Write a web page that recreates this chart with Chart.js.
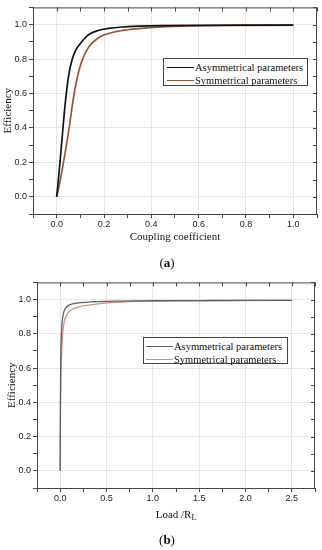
<!DOCTYPE html>
<html><head><meta charset="utf-8">
<script src="https://cdn.jsdelivr.net/npm/chart.js@4.4.1/dist/chart.umd.min.js"></script>
<style>
html,body{margin:0;padding:0;background:#fff;}
#wrap{position:relative;width:322px;height:550px;overflow:hidden;background:#fff;}
canvas{position:absolute;left:0;}
.legend{position:absolute;border:1px solid #444;background:#fff;box-sizing:border-box;font:10.5px "Liberation Serif",serif;color:#111;}
.row{position:absolute;left:0;right:0;height:13px;}
.sw{position:absolute;height:0;top:6px;}
.txt{position:absolute;top:0;line-height:13px;white-space:nowrap;}
.cap{position:absolute;font:11px "Liberation Serif",serif;color:#111;transform:translate(-50%,-50%);white-space:nowrap;}
.big{font-size:13px;}
sub{font-size:8px;vertical-align:-2px;line-height:0;}
</style></head>
<body>
<div id="wrap">
  <canvas id="ca" width="322" height="275" style="top:0"></canvas>
  <canvas id="cb" width="322" height="275" style="top:275px"></canvas>
  <div id="legA" class="legend" style="left:163px;top:58px;width:145px;height:28px;"></div>
  <div id="legB" class="legend" style="left:143px;top:337px;width:145px;height:27px;"></div>
  <div class="cap" style="left:176px;top:514px;">Load /R<sub>L</sub></div>
  <div class="cap big" style="left:167px;top:263px;">(<b>a</b>)</div>
  <div class="cap big" style="left:167px;top:540px;">(<b>b</b>)</div>
</div>
<script>
// ---------- data ----------
const seriesNames = ['Asymmetrical parameters', 'Symmetrical parameters'];

// (a) efficiency vs coupling coefficient
const couplingAsym   = [0, 0.006, 0.014, 0.021, 0.028, 0.036, 0.05, 0.066, 0.08, 0.097, 0.115, 0.133, 0.175, 0.22, 0.274, 0.35, 0.45, 0.6, 0.8, 1.0];
const efficiencyAsymA = [0, 0.08, 0.2, 0.31, 0.42, 0.54, 0.70, 0.80, 0.85, 0.885, 0.915, 0.94, 0.966, 0.978, 0.986, 0.991, 0.994, 0.996, 0.997, 0.997];
const couplingSym    = [0, 0.01, 0.025, 0.04, 0.055, 0.068, 0.085, 0.104, 0.133, 0.175, 0.232, 0.3, 0.345, 0.444, 0.55, 0.7, 0.85, 1.0];
const efficiencySymA = [0, 0.06, 0.17, 0.29, 0.42, 0.55, 0.68, 0.78, 0.865, 0.922, 0.953, 0.97, 0.977, 0.987, 0.992, 0.995, 0.996, 0.997];

// (b) efficiency vs load / R_L
const loadAsym        = [0, 0.002, 0.005, 0.01, 0.018, 0.036, 0.06, 0.09, 0.15, 0.22, 0.35, 0.58, 1.0, 1.5, 2.0, 2.5];
const efficiencyAsymB = [0, 0.35, 0.60, 0.75, 0.85, 0.92, 0.95, 0.966, 0.976, 0.982, 0.987, 0.991, 0.993, 0.994, 0.995, 0.995];
const loadSym         = [0, 0.003, 0.007, 0.013, 0.022, 0.036, 0.073, 0.145, 0.22, 0.326, 0.45, 0.58, 0.75, 0.94, 1.3, 1.8, 2.5];
const efficiencySymB  = [0, 0.30, 0.50, 0.65, 0.76, 0.845, 0.913, 0.946, 0.96, 0.969, 0.977, 0.983, 0.988, 0.991, 0.993, 0.994, 0.995];

// axis ranges / ticks
const rangeA = {xmin: -0.1, xmax: 1.1, xstep: 0.1, xmajor: 2};
const rangeB = {xmin: -0.25, xmax: 2.75, xstep: 0.25, xmajor: 2};
const rangeY = {min: -0.1, max: 1.1, step: 0.1, major: 2};
const titles = {xA: 'Coupling coefficient', y: 'Efficiency'};

// ---------- helpers ----------
function pts(xs, ys){ return xs.map((x,i)=>({x:x, y:ys[i]})); }
function isMajor(v, step, every){ return Math.round(v/step) % every === 0; }

const mirrorTicks = {
  id: 'mirrorTicks',
  afterDraw(chart){
    const {ctx, chartArea:a, scales:{x, y}} = chart;
    ctx.save();
    ctx.strokeStyle = '#444';
    ctx.lineWidth = 1;
    ctx.beginPath();
    x.ticks.forEach(t => {
      const px = Math.round(x.getPixelForValue(t.value)) + 0.5;
      ctx.moveTo(px, a.top); ctx.lineTo(px, a.top + 4);
    });
    y.ticks.forEach(t => {
      const py = Math.round(y.getPixelForValue(t.value)) + 0.5;
      ctx.moveTo(a.right, py); ctx.lineTo(a.right - 4, py);
    });
    ctx.moveTo(a.left, a.top + 0.5); ctx.lineTo(a.right, a.top + 0.5);
    ctx.moveTo(a.right - 0.5, a.top); ctx.lineTo(a.right - 0.5, a.bottom);
    ctx.stroke();
    ctx.restore();
  }
};

function makeChart(id, o){
  return new Chart(document.getElementById(id), {
    type: 'line',
    data: { datasets: o.sets.map(s => ({
      label: s.label, data: s.data, borderColor: s.color, borderWidth: s.width,
      pointRadius: 0, fill: false, cubicInterpolationMode: 'monotone'
    }))},
    options: {
      responsive: false, animation: false, events: [],
      layout: { padding: o.pad },
      plugins: { legend: {display:false}, tooltip: {enabled:false} },
      scales: {
        x: {
          type: 'linear', min: o.x.xmin, max: o.x.xmax,
          afterFit: s => { s.height = 30; },
          afterBuildTicks: s => {
            const t = []; const n = Math.round((o.x.xmax - o.x.xmin)/o.x.xstep);
            for (let i=0;i<=n;i++) t.push({value: +(o.x.xmin + i*o.x.xstep).toFixed(4)});
            s.ticks = t;
          },
          ticks: {
            autoSkip: false, maxRotation: 0, padding: 1, color: '#222',
            font: {family: '"Liberation Sans", Arial, sans-serif', size: 9},
            callback: v => isMajor(v, o.x.xstep, o.x.xmajor) ? (Math.round(v*10)/10).toFixed(1) : ''
          },
          grid: {
            color: c => (c.tick && isMajor(c.tick.value, o.x.xstep, o.x.xmajor)) ? '#e6e6e6' : 'rgba(0,0,0,0)',
            tickColor: '#444', tickLength: 4, lineWidth: 1
          },
          border: {display: true, color: '#444', width: 1},
          title: {
            display: !!o.xTitle, text: o.xTitle || '', color: '#111',
            font: {family: '"Liberation Serif", serif', size: 11}, padding: {top:0, bottom:0}
          }
        },
        y: {
          type: 'linear', min: rangeY.min, max: rangeY.max,
          afterFit: s => { s.width = o.yWidth; },
          afterBuildTicks: s => {
            const t = []; const n = Math.round((rangeY.max - rangeY.min)/rangeY.step);
            for (let i=0;i<=n;i++) t.push({value: +(rangeY.min + i*rangeY.step).toFixed(4)});
            s.ticks = t;
          },
          ticks: {
            autoSkip: false, padding: 2, color: '#222',
            font: {family: '"Liberation Sans", Arial, sans-serif', size: 9},
            callback: v => isMajor(v, rangeY.step, rangeY.major) ? (Math.round(v*10)/10).toFixed(1) : ''
          },
          grid: {
            color: c => (c.tick && isMajor(c.tick.value, rangeY.step, rangeY.major)) ? '#e6e6e6' : 'rgba(0,0,0,0)',
            tickColor: '#444', tickLength: 4, lineWidth: 1
          },
          border: {display: true, color: '#444', width: 1},
          title: {
            display: true, text: titles.y, color: '#111',
            font: {family: '"Liberation Serif", serif', size: 11}, padding: {top: o.yTitlePad, bottom: 0}
          }
        }
      }
    },
    plugins: [mirrorTicks]
  });
}

const colorsA = ['#111111', '#9a5430'];
const colorsB = ['#5e5e68', '#d09078'];

makeChart('ca', {
  pad: {left:0, right:5, top:4, bottom:31}, yWidth: 33, yTitlePad: 1.5,
  x: rangeA, xTitle: titles.xA,
  sets: [
    {label: seriesNames[0], data: pts(couplingAsym, efficiencyAsymA), color: colorsA[0], width: 1.7},
    {label: seriesNames[1], data: pts(couplingSym, efficiencySymA), color: colorsA[1], width: 1.7}
  ]
});
makeChart('cb', {
  pad: {left:0, right:7, top:7, bottom:32}, yWidth: 37, yTitlePad: 6,
  x: rangeB, xTitle: '',
  sets: [
    {label: seriesNames[0], data: pts(loadAsym, efficiencyAsymB), color: colorsB[0], width: 1.3},
    {label: seriesNames[1], data: pts(loadSym, efficiencySymB), color: colorsB[1], width: 1.3}
  ]
});

function buildLegend(id, colors, rows, swLeft, swLen, txtLeft){
  const el = document.getElementById(id);
  seriesNames.forEach((n,i) => {
    const r = document.createElement('div');
    r.className = 'row'; r.style.top = rows[i] + 'px';
    r.innerHTML = '<div class="sw" style="left:'+swLeft+'px;width:'+swLen+'px;border-top:1.5px solid '+colors[i]+'"></div>' +
                  '<div class="txt" style="left:'+txtLeft+'px">'+n+'</div>';
    el.appendChild(r);
  });
}
buildLegend('legA', colorsA, [1.5, 14.5], 3, 27, 31);
buildLegend('legB', colorsB, [1.5, 14.5], 1.5, 27, 30);
</script>
</body></html>
